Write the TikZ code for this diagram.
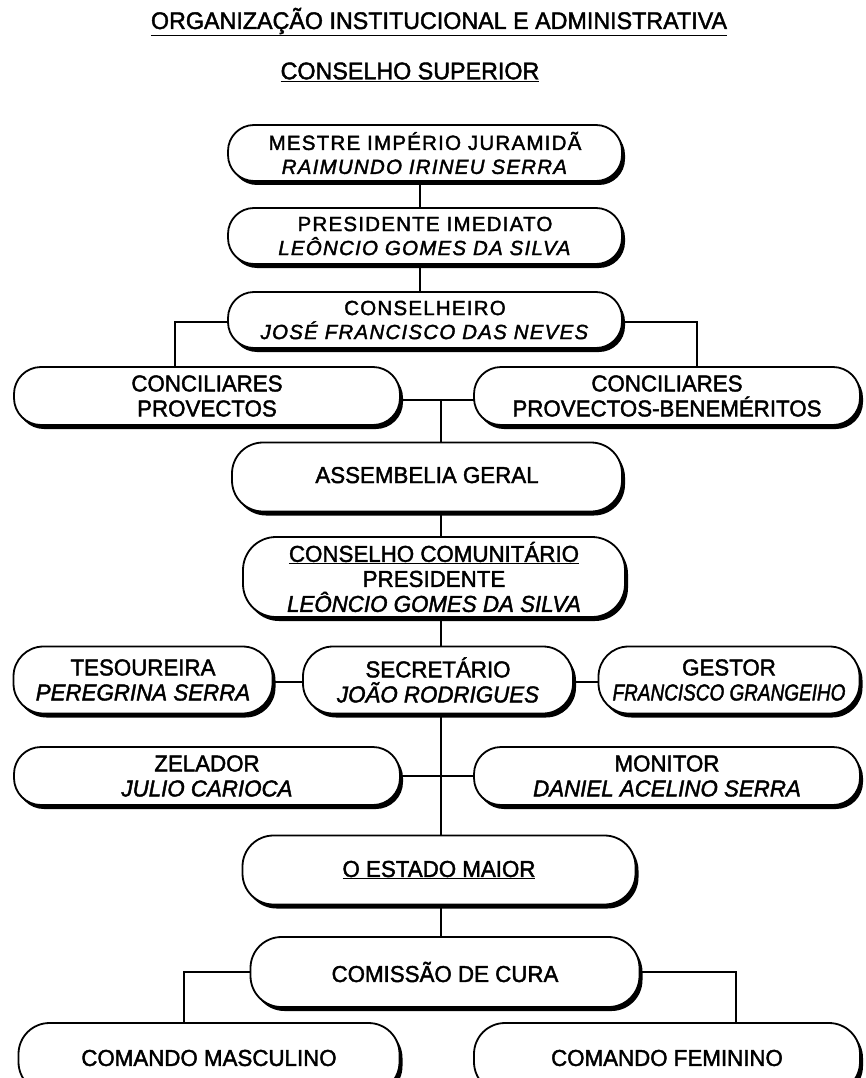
\documentclass[tikz,border=0pt]{standalone}
\usepackage{fontspec}
\usepackage{graphicx}
\setmainfont{Liberation Sans}
\newfontfamily\lf[FakeStretch=0.97,FakeBold=1.8]{Liberation Sans}
\newfontfamily\tf[LetterSpace=6,FakeBold=1.8]{Liberation Sans}
\usetikzlibrary{shadows,backgrounds}
\tikzset{
  box/.style={draw, line width=1.8pt, fill=white, rounded corners=#1, inner sep=0pt, align=center,
    drop shadow={shadow xshift=3pt, shadow yshift=-4pt, fill=black, opacity=1}},
  box/.default=26pt,
  conn/.style={line width=2pt},
  topfont/.style={font=\tf\fontsize{20.5}{24}\selectfont},
  lowfont/.style={font=\lf\fontsize{23}{25}\selectfont},
  headfont/.style={font=\lf\fontsize{24}{26}\selectfont},
}
\begin{document}
\begin{tikzpicture}[x=1pt,y=-1pt]
\path[use as bounding box, clip] (0,0) rectangle (865,1078);
\node[headfont] (title) at (439,22) {\underline{ORGANIZAÇÃO INSTITUCIONAL E ADMINISTRATIVA}};
\node[headfont] (sub) at (410,72) {\underline{CONSELHO SUPERIOR}};

\node[box, topfont, minimum width=394pt, minimum height=56pt] (mestre) at (425,153)
  {MESTRE IMPÉRIO JURAMIDÃ\\\textit{RAIMUNDO IRINEU SERRA}};
\node[box, topfont, minimum width=394pt, minimum height=56pt] (pres) at (425,236)
  {PRESIDENTE IMEDIATO\\\textit{LEÔNCIO GOMES DA SILVA}};
\node[box, topfont, minimum width=394pt, minimum height=56pt] (cons) at (425,320)
  {CONSELHEIRO\\\textit{JOSÉ FRANCISCO DAS NEVES}};

\node[box=27pt, lowfont, minimum width=386pt, minimum height=58pt] (concP) at (207,396)
  {CONCILIARES\\PROVECTOS};
\node[box=27pt, lowfont, minimum width=386pt, minimum height=58pt] (concB) at (667,396)
  {CONCILIARES\\PROVECTOS-BENEMÉRITOS};

\node[box=31pt, lowfont, minimum width=390pt, minimum height=69pt] (assem) at (427,477)
  {\raisebox{4pt}{ASSEMBELIA GERAL}};
\node[box=33pt, lowfont, minimum width=382pt, minimum height=80pt] (ccom) at (434,577)
  {\underline{CONSELHO COMUNITÁRIO}\\PRESIDENTE\\\textit{LEÔNCIO GOMES DA SILVA}};

\node[box=30pt, lowfont, minimum width=259pt, minimum height=67pt] (tes) at (143,680)
  {TESOUREIRA\\\textit{PEREGRINA SERRA}};
\node[box=30pt, lowfont, minimum width=270pt, minimum height=67pt] (sec) at (438,680)
  {SECRETÁRIO\\\textit{JOÃO RODRIGUES}};
\node[box=30pt, lowfont, minimum width=261pt, minimum height=67pt] (gest) at (729,680)
  {GESTOR\\\scalebox{0.85}[1]{\textit{FRANCISCO GRANGEIHO}}};

\node[box=27pt, lowfont, minimum width=386pt, minimum height=58pt] (zel) at (207,776)
  {ZELADOR\\\textit{JULIO CARIOCA}};
\node[box=27pt, lowfont, minimum width=386pt, minimum height=58pt] (mon) at (667,776)
  {MONITOR\\\textit{DANIEL ACELINO SERRA}};

\node[box=31pt, lowfont, minimum width=393pt, minimum height=69pt] (estado) at (439,870)
  {\underline{O ESTADO MAIOR}};
\node[box=31pt, lowfont, minimum width=389pt, minimum height=70pt] (comis) at (445,972)
  {COMISSÃO DE CURA};

\node[box=31pt, lowfont, minimum width=381pt, minimum height=70pt] (comM) at (209,1058)
  {COMANDO MASCULINO};
\node[box=31pt, lowfont, minimum width=386pt, minimum height=70pt] (comF) at (667,1058)
  {COMANDO FEMININO};

\begin{scope}[on background layer]
\draw[conn] ([xshift=-5pt]mestre.center) -- ([xshift=-5pt]cons.center);
\draw[conn] ([yshift=-2pt]cons.center) -| ([xshift=-32pt]concP.center);
\draw[conn] ([yshift=-2pt]cons.center) -| ([xshift=30pt]concB.center);
\draw[conn] ([yshift=-4pt]concP.center) -- ([yshift=-4pt]concB.center);
\coordinate (j) at (441,400);
\draw[conn] (j) -- (j |- comis.center);
\draw[conn] ([yshift=-2pt]tes.center) -- ([yshift=-2pt]gest.center);
\draw[conn] (zel.center) -- (mon.center);
\draw[conn] (comis.center) -| ([xshift=-25pt]comM.center);
\draw[conn] (comis.center) -| ([xshift=69pt]comF.center);
\end{scope}
\end{tikzpicture}
\end{document}
